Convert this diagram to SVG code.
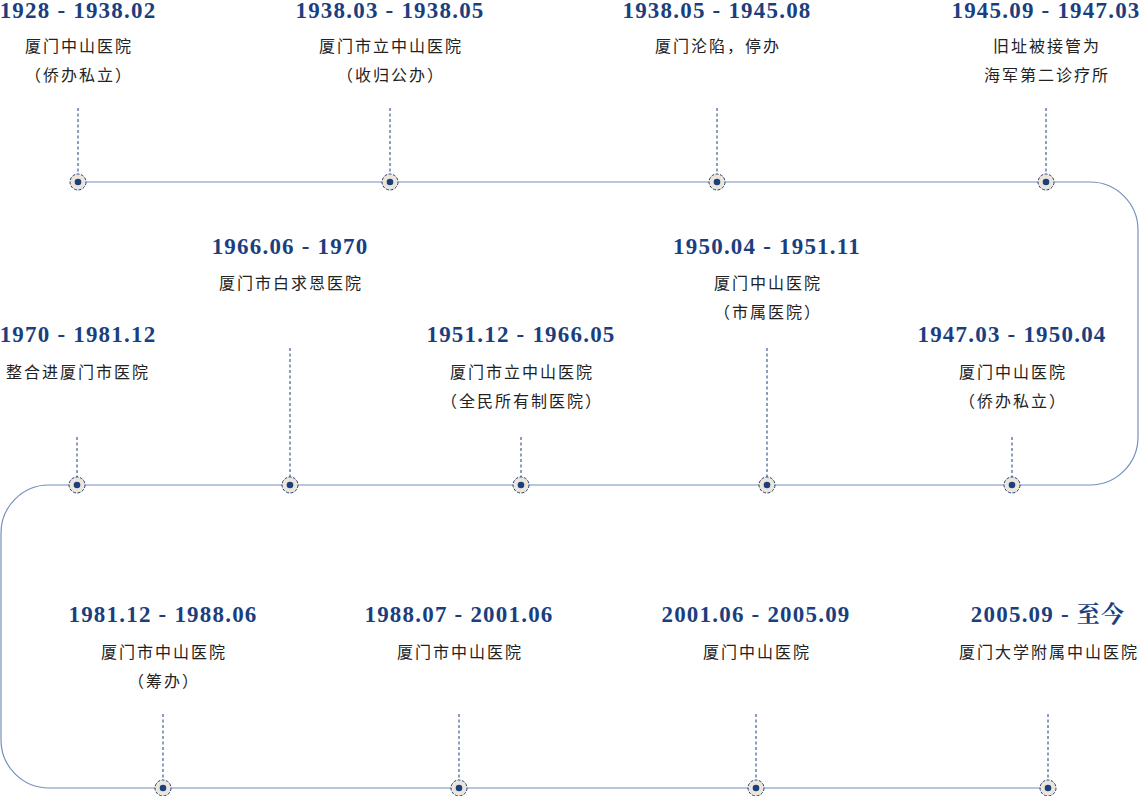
<svg xmlns="http://www.w3.org/2000/svg" width="1140" height="796" viewBox="0 0 1140 796">
<style>
.t{font-family:"Liberation Serif","Times New Roman",serif;font-weight:bold;font-size:23px;fill:#1b3f7e;text-anchor:middle;letter-spacing:1.2px}
.s{font-family:"Noto Sans CJK SC","Noto Sans",sans-serif;font-size:16px;fill:#222222;text-anchor:middle;letter-spacing:2px}
.v{stroke:#1b3f7e;stroke-width:1;stroke-dasharray:3 2.5;fill:none}
.ring{fill:#ebe5da;stroke:#1b3f7e;stroke-width:1;stroke-dasharray:3 1.5}
.core{fill:#1b3f7e}
</style>
<defs>
<g id="dot"><circle class="ring" r="8"/><circle class="core" r="3.3"/></g>
</defs>
<rect width="1140" height="796" fill="#ffffff"/>
<g id="connectors">
<path d="M78,182 H1090 A48,48 0 0 1 1138,230 V437 A48,48 0 0 1 1090,485 H49 A48,48 0 0 0 1,533 V740 A48,48 0 0 0 49,788 H1048" fill="none" stroke="#7590bd" stroke-width="1.2"/>
<path class="v" d="M78,108V174 M390,108V174 M717,108V174 M1046,108V174"/>
<path class="v" d="M77,437V477 M290,348V477 M521,437V477 M767,348V477 M1012,437V477"/>
<path class="v" d="M163,714V780 M459,714V780 M756,714V780 M1048,714V780"/>
</g>
<g id="n1"><text class="t" x="78" y="18">1928 - 1938.02</text><text class="s" x="79" y="52">厦门中山医院</text><text class="s" x="79" y="81">（侨办私立）</text><use href="#dot" x="78" y="182"/></g>
<g id="n2"><text class="t" x="390" y="18">1938.03 - 1938.05</text><text class="s" x="391" y="52">厦门市立中山医院</text><text class="s" x="391" y="81">（收归公办）</text><use href="#dot" x="390" y="182"/></g>
<g id="n3"><text class="t" x="717" y="18">1938.05 - 1945.08</text><text class="s" x="718" y="52">厦门沦陷，停办</text><use href="#dot" x="717" y="182"/></g>
<g id="n4"><text class="t" x="1046" y="18">1945.09 - 1947.03</text><text class="s" x="1047" y="52">旧址被接管为</text><text class="s" x="1047" y="81">海军第二诊疗所</text><use href="#dot" x="1046" y="182"/></g>
<g id="n5"><text class="t" x="1012" y="342">1947.03 - 1950.04</text><text class="s" x="1013" y="378">厦门中山医院</text><text class="s" x="1013" y="407">（侨办私立）</text><use href="#dot" x="1012" y="485"/></g>
<g id="n6"><text class="t" x="767" y="254">1950.04 - 1951.11</text><text class="s" x="768" y="289">厦门中山医院</text><text class="s" x="768" y="318">（市属医院）</text><use href="#dot" x="767" y="485"/></g>
<g id="n7"><text class="t" x="521" y="342">1951.12 - 1966.05</text><text class="s" x="522" y="378">厦门市立中山医院</text><text class="s" x="522" y="407">（全民所有制医院）</text><use href="#dot" x="521" y="485"/></g>
<g id="n8"><text class="t" x="290" y="254">1966.06 - 1970</text><text class="s" x="291" y="289">厦门市白求恩医院</text><use href="#dot" x="290" y="485"/></g>
<g id="n9"><text class="t" x="78" y="342">1970 - 1981.12</text><text class="s" x="78" y="378">整合进厦门市医院</text><use href="#dot" x="77" y="485"/></g>
<g id="n10"><text class="t" x="163" y="622">1981.12 - 1988.06</text><text class="s" x="164" y="658">厦门市中山医院</text><text class="s" x="164" y="687">（筹办）</text><use href="#dot" x="163" y="788"/></g>
<g id="n11"><text class="t" x="459" y="622">1988.07 - 2001.06</text><text class="s" x="460" y="658">厦门市中山医院</text><use href="#dot" x="459" y="788"/></g>
<g id="n12"><text class="t" x="756" y="622">2001.06 - 2005.09</text><text class="s" x="757" y="658">厦门中山医院</text><use href="#dot" x="756" y="788"/></g>
<g id="n13"><text class="t" x="1048" y="622">2005.09 - <tspan font-family="Noto Serif CJK SC,Noto Sans CJK SC,serif">至今</tspan></text><text class="s" x="1049" y="658">厦门大学附属中山医院</text><use href="#dot" x="1048" y="788"/></g>
</svg>
